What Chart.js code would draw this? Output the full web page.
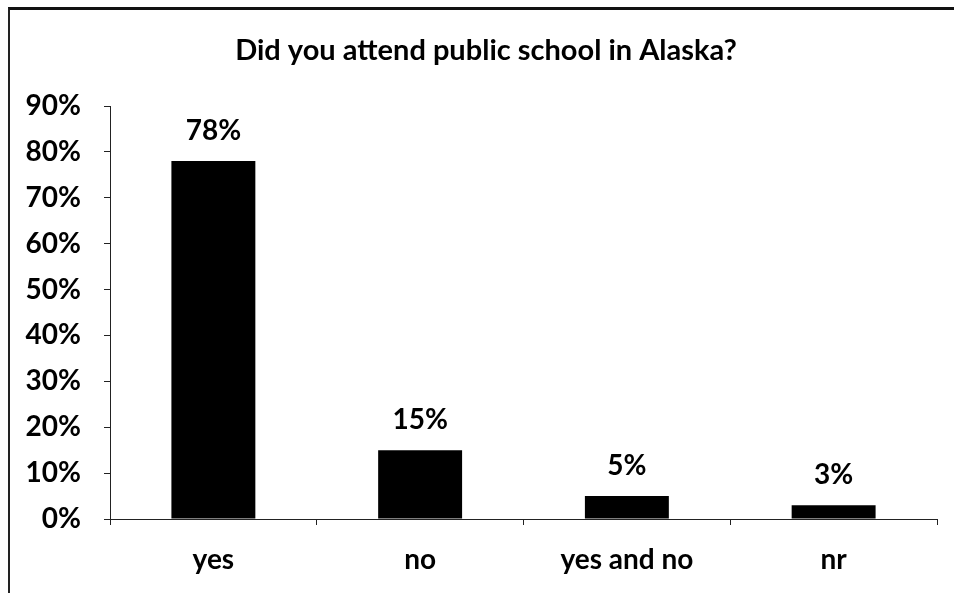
<!DOCTYPE html>
<html>
<head>
<meta charset="utf-8">
<script src="https://cdn.jsdelivr.net/npm/chart.js@4/dist/chart.umd.min.js"></script>
<style>
  html, body { margin: 0; padding: 0; background: #fff; }
  #wrap { position: relative; width: 954px; height: 593px; overflow: hidden; }
  #frame {
    position: absolute; left: 8px; top: 7px; width: 1000px; height: 700px;
    border-top: 3px solid #111; border-left: 2px solid #222;
    pointer-events: none;
  }
  canvas { position: absolute; left: 0; top: 0; }
</style>
</head>
<body>
<div id="wrap">
  <canvas id="chart" width="954" height="593"></canvas>
  <div id="frame"></div>
</div>
<script>
// Survey answers and shares (percent)
const categories = ['yes', 'no', 'yes and no', 'nr'];
const shares = [78, 15, 5, 3];
const yTicks = [0, 10, 20, 30, 40, 50, 60, 70, 80, 90];
const chartTitle = 'Did you attend public school in Alaska?';

const FONT = 'Lato, "Open Sans", sans-serif';

// Title centred over the whole frame, plus value labels above each bar
const annotate = {
  id: 'annotate',
  afterDatasetsDraw(chart) {
    const ctx = chart.ctx;
    const meta = chart.getDatasetMeta(0);
    ctx.save();
    ctx.fillStyle = '#000';
    ctx.textAlign = 'center';

    ctx.font = 'bold 29px ' + FONT;
    ctx.textBaseline = 'middle';
    ctx.fillText(chartTitle, 486, 51);

    ctx.font = 'bold 28px ' + FONT;
    ctx.textBaseline = 'alphabetic';
    meta.data.forEach((bar, i) => {
      ctx.fillText(shares[i] + '%', bar.x, bar.y - 21);
    });
    ctx.restore();
  }
};

new Chart(document.getElementById('chart'), {
  type: 'bar',
  data: {
    labels: categories,
    datasets: [{
      data: shares,
      backgroundColor: '#000',
      borderWidth: 0,
      barPercentage: 0.406,
      categoryPercentage: 1
    }]
  },
  options: {
    responsive: false,
    animation: false,
    layout: { padding: { left: 0, right: 17, top: 106, bottom: 0 } },
    plugins: {
      legend: { display: false },
      tooltip: { enabled: false },
      title: { display: false }
    },
    scales: {
      x: {
        grid: { offset: true, drawOnChartArea: false, color: '#222', tickLength: 6 },
        border: { color: '#222', width: 1 },
        ticks: { color: '#000', font: { family: FONT, size: 28, weight: 'bold' }, padding: 18 },
        afterFit(scale) { scale.height = 74; }
      },
      y: {
        min: 0,
        max: 90,
        afterBuildTicks(scale) { scale.ticks = yTicks.map(v => ({ value: v })); },
        grid: { drawOnChartArea: false, color: '#222', tickLength: 6 },
        border: { color: '#222', width: 1 },
        ticks: {
          color: '#000',
          font: { family: FONT, size: 28, weight: 'bold' },
          padding: 23,
          callback: v => v + '%'
        },
        afterFit(scale) { scale.width = 110; }
      }
    }
  },
  plugins: [annotate]
});
</script>
</body>
</html>
